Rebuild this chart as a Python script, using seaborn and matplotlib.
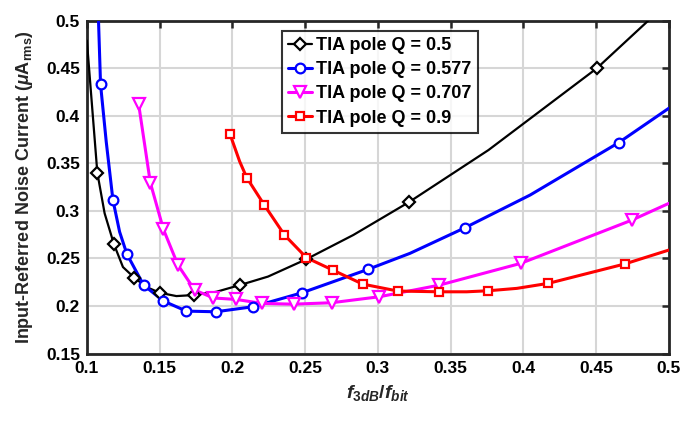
import numpy as np
import pandas as pd
import matplotlib
matplotlib.use("Agg")
import matplotlib.pyplot as plt
from matplotlib.lines import Line2D
import seaborn as sns

# Normalised TIA bandwidth f3dB/fbit and input-referred noise current (uA rms)
# Q = 0.5
q050_x = [0.100, 0.1072, 0.1122, 0.1186, 0.1248, 0.1326, 0.141, 0.150, 0.1615, 0.1736,
          0.189, 0.205, 0.2245, 0.2505, 0.2831, 0.3215, 0.376, 0.4505, 0.4858]
q050_y = [0.479, 0.340, 0.2975, 0.265, 0.241, 0.2298, 0.220, 0.214, 0.2105, 0.2116,
          0.215, 0.222, 0.231, 0.249, 0.2747, 0.3094, 0.364, 0.450, 0.500]
q050_mx = [0.1072, 0.1186, 0.1326, 0.150, 0.1736, 0.205, 0.2505, 0.3215, 0.4505]
q050_my = [0.340, 0.265, 0.2298, 0.214, 0.2116, 0.222, 0.249, 0.3094, 0.450]

# Q = 0.577
q577_x = [0.108, 0.1094, 0.1133, 0.1179, 0.1225, 0.1275, 0.139, 0.1526, 0.1684, 0.1886,
          0.2142, 0.2479, 0.2932, 0.322, 0.3598, 0.4046, 0.4654, 0.500]
q577_y = [0.500, 0.433, 0.3728, 0.3115, 0.278, 0.2547, 0.222, 0.2053, 0.1947, 0.194,
          0.1993, 0.214, 0.2386, 0.2554, 0.2823, 0.3167, 0.3717, 0.408]
q577_mx = [0.1094, 0.1179, 0.1275, 0.139, 0.1526, 0.1684, 0.1886, 0.2142, 0.2479,
           0.2932, 0.3598, 0.4654]
q577_my = [0.433, 0.3115, 0.2547, 0.222, 0.2053, 0.1947, 0.194, 0.1993, 0.214,
           0.2386, 0.2823, 0.3717]

# Q = 0.707
q707_x = [0.1356, 0.1436, 0.1526, 0.1626, 0.1741, 0.187, 0.2024, 0.2204, 0.242, 0.2682,
          0.301, 0.3422, 0.3982, 0.4746, 0.500]
q707_y = [0.412, 0.3297, 0.2807, 0.2431, 0.2168, 0.2085, 0.207, 0.2028, 0.202, 0.2035,
          0.2098, 0.222, 0.2449, 0.2904, 0.308]
q707_mx = [0.1356, 0.1436, 0.1526, 0.1626, 0.1741, 0.187, 0.2024, 0.2204, 0.242, 0.2682,
           0.301, 0.3422, 0.3982, 0.4746]
q707_my = [0.412, 0.3297, 0.2807, 0.2431, 0.2168, 0.2085, 0.207, 0.2028, 0.202, 0.2035,
           0.2098, 0.222, 0.2449, 0.2904]

# Q = 0.9
q090_x = [0.1984, 0.205, 0.2099, 0.2218, 0.2358, 0.2509, 0.2689, 0.2895, 0.3136, 0.342,
          0.361, 0.3759, 0.3955, 0.4172, 0.4695, 0.500]
q090_y = [0.3805, 0.352, 0.3349, 0.3065, 0.2747, 0.2508, 0.2379, 0.2231, 0.2158, 0.215,
          0.215, 0.2161, 0.2186, 0.2239, 0.2442, 0.2589]
q090_mx = [0.1984, 0.2099, 0.2218, 0.2358, 0.2509, 0.2689, 0.2895, 0.3136, 0.342,
           0.3759, 0.4172, 0.4695]
q090_my = [0.3805, 0.3349, 0.3065, 0.2747, 0.2508, 0.2379, 0.2231, 0.2158, 0.215,
           0.2161, 0.2239, 0.2442]

labels = ["TIA pole Q = 0.5", "TIA pole Q = 0.577", "TIA pole Q = 0.707", "TIA pole Q = 0.9"]
x_ticks = [0.1, 0.15, 0.2, 0.25, 0.3, 0.35, 0.4, 0.45, 0.5]
y_ticks = [0.15, 0.2, 0.25, 0.3, 0.35, 0.4, 0.45, 0.5]

sns.set_theme(style="white")
plt.rcParams.update({
    "font.family": ["Liberation Sans", "DejaVu Sans"],
    "font.weight": "bold",
    "text.color": "black",
    "mathtext.fontset": "custom",
    "mathtext.rm": "Liberation Sans:bold",
    "mathtext.it": "Liberation Sans:italic:bold",
    "mathtext.bf": "Liberation Sans:bold",
})

fig = plt.figure(figsize=(6.84, 4.21), dpi=100)
ax = fig.add_axes([0.127, 0.16, 0.851, 0.791])

series = [
    (q050_x, q050_y, q050_mx, q050_my, "black", "D", 6.0, 1.6),
    (q577_x, q577_y, q577_mx, q577_my, "#0000ff", "o", 7.0, 2.2),
    (q707_x, q707_y, q707_mx, q707_my, "#ff00ff", "v", 8.0, 2.2),
    (q090_x, q090_y, q090_mx, q090_my, "#ff0000", "s", 5.5, 2.2),
]

handles = []
for (cx, cy, mx, my, col, mk, ms, lw), lab in zip(series, labels):
    curve = pd.DataFrame({"x": cx, "y": cy})
    sns.lineplot(data=curve, x="x", y="y", sort=False, color=col, linewidth=lw,
                 ax=ax, legend=False, zorder=3)
    ax.plot(mx, my, linestyle="none", marker=mk, markersize=ms, markerfacecolor="white",
            markeredgecolor=col, markeredgewidth=1.6, zorder=4, clip_on=False)
    handles.append(Line2D([0], [0], color=col, linewidth=lw, marker=mk, markersize=ms,
                          markerfacecolor="white", markeredgecolor=col,
                          markeredgewidth=1.6))

ax.set_xlim(0.1, 0.5)
ax.set_ylim(0.15, 0.5)
ax.set_xticks(x_ticks)
ax.set_yticks(y_ticks)
ax.set_xticklabels([f"{t:g}" for t in x_ticks])
ax.set_yticklabels([f"{t:g}" for t in y_ticks])
ax.grid(True, color="#d6d6d6", linewidth=1.5)
ax.set_axisbelow(True)
ax.tick_params(direction="in", length=5, width=1.8, top=True, right=True,
               labelsize=12.5, colors="#262626", labelcolor="black", pad=5)
for lab in ax.get_xticklabels() + ax.get_yticklabels():
    lab.set_fontweight("bold")
for sp in ax.spines.values():
    sp.set_linewidth(2.0)
    sp.set_color("#262626")

ax.set_xlabel(r"$f_{\mathit{3dB}}/f_{\mathit{bit}}$", fontsize=14, labelpad=5)
ax.set_ylabel(r"Input-Referred Noise Current ($\mu$A$_{\mathrm{rms}}$)",
              fontsize=13, fontweight="bold", labelpad=8)

leg = ax.legend(handles, labels, loc="upper left", bbox_to_anchor=(0.335, 0.97),
                frameon=True, fancybox=False, edgecolor="black", handlelength=1.3,
                handletextpad=0.25, borderpad=0.35, labelspacing=0.4, borderaxespad=0,
                prop={"weight": "bold", "size": 13})
leg.get_frame().set_linewidth(1.5)
leg.set_zorder(10)

fig.savefig("out.png", dpi=100)
